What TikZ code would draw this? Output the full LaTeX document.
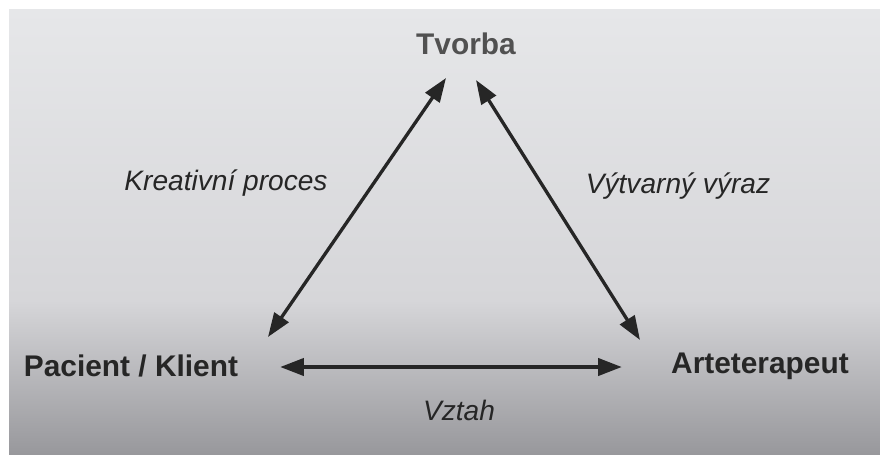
\documentclass[tikz,border=0pt]{standalone}
\usepackage{fontspec}
\setmainfont{Liberation Sans}
\usetikzlibrary{arrows.meta}

\definecolor{pagetop}{HTML}{E6E7E9}
\definecolor{pagemid}{HTML}{D6D6D9}
\definecolor{pagebot}{HTML}{98989C}
\definecolor{ink}{HTML}{262626}

\tikzset{
  corner/.style={font=\fontsize{17}{20}\selectfont\bfseries, text=ink},
  relation/.style={font=\fontsize{16}{19}\selectfont\itshape, text=ink},
  link/.style={draw=ink, line width=2.4pt, {Triangle[length=0.48cm,width=0.34cm]}-{Triangle[length=0.48cm,width=0.34cm]}}
}

\begin{document}
\begin{tikzpicture}[x=0.02cm, y=-0.02cm]

\useasboundingbox (0,0) rectangle (880,454);
\fill[white] (0,0) rectangle (880,454);
\shade[top color=pagetop, bottom color=pagemid] (9,9) rectangle (880,300);
\shade[top color=pagemid, bottom color=pagebot] (9,300) rectangle (880,454);

% corners of the triangle
\node[corner, text=ink!80] (tvorba) at (466,44) {Tvorba};
\node[corner] (klient) at (131,366) {Pacient / Klient};
\node[corner] (terapeut) at (760,366) {Arteterapeut};

% arrow ends
\coordinate (tv-l) at (446,78);
\coordinate (tv-r) at (476,80);
\coordinate (kl-u) at (268,337);
\coordinate (kl-r) at (280,367);
\coordinate (te-u) at (640,340);
\coordinate (te-l) at (622,367);

\draw[link, line width=1.9pt] (kl-u) -- (tv-l);
\draw[link, line width=1.9pt] (tv-r) -- (te-u);
\draw[link] (kl-r) -- (te-l);

% relations
\node[relation] (proces) at (226,183) {Kreativní proces};
\node[relation] (vyraz) at (678,186) {Výtvarný výraz};
\node[relation] (vztah) at (459,410) {Vztah};

\end{tikzpicture}
\end{document}
